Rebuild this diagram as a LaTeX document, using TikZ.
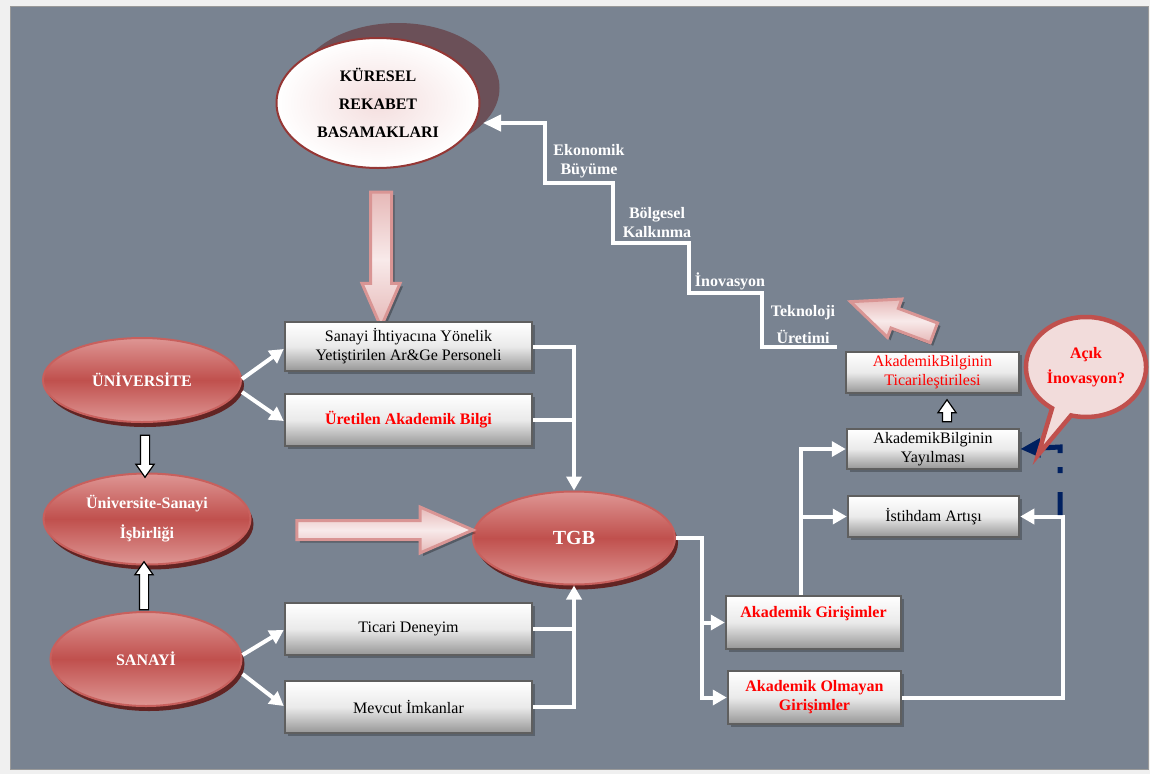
\documentclass[tikz,border=0pt]{standalone}
\usepackage{fontspec}
\setmainfont{Liberation Serif}
\usetikzlibrary{shapes.geometric,shapes.arrows,shapes.callouts,shadows,arrows.meta,calc}
\definecolor{outergray}{RGB}{240,240,240}
\definecolor{slate}{RGB}{121,131,145}
\definecolor{redmid}{RGB}{192,80,77}
\definecolor{redlight}{RGB}{222,150,148}
\definecolor{redrim}{RGB}{200,96,93}
\definecolor{redshadow}{RGB}{98,36,35}
\definecolor{kurpink}{RGB}{244,222,222}
\definecolor{kurrim}{RGB}{149,55,53}
\definecolor{kurshadow}{RGB}{107,80,88}
\definecolor{boxgray}{RGB}{150,150,150}
\definecolor{boxrim}{RGB}{95,95,95}
\definecolor{pinkrim}{RGB}{217,149,148}
\definecolor{pinkedge}{RGB}{230,184,183}
\definecolor{pinkmid}{RGB}{248,234,234}
\definecolor{calloutpink}{RGB}{242,220,219}
\definecolor{navy}{RGB}{0,32,96}
\tikzset{
  redell/.style={
    ellipse,
    draw=redrim,
    line width=2pt,
    top color=redlight,
    bottom color=redlight,
    middle color=redmid,
    text=white,
    font=\bfseries\fontsize{16}{19}\selectfont,
    align=center,
    inner sep=0pt,
    drop shadow={shadow xshift=3pt,shadow yshift=-5pt,fill=redshadow,opacity=1}
  },
  kurell/.style={
    ellipse,
    draw=kurrim,
    line width=2pt,
    inner color=kurpink,
    outer color=white,
    font=\bfseries\fontsize{16}{28}\selectfont,
    align=center,
    inner sep=0pt,
    minimum width=203pt,
    minimum height=130pt,
    drop shadow={shadow xshift=20pt,shadow yshift=15pt,fill=kurshadow,opacity=1}
  },
  graybox/.style={
    rectangle,
    draw=boxrim,
    line width=2.5pt,
    top color=white,
    bottom color=boxgray,
    middle color=white!80!boxgray,
    font=\fontsize{16}{19}\selectfont,
    align=center,
    inner sep=2pt,
    drop shadow={shadow xshift=3pt,shadow yshift=-3pt,fill=black,opacity=.25}
  },
  redtext/.style={text=red, font=\bfseries\fontsize{16}{19}\selectfont},
  redplain/.style={text=red},
  wline/.style={draw=white, line width=4pt},
  warrow/.style={wline, -{Triangle[length=14pt,width=15pt]}},
  blockarrow/.style={
    single arrow,
    draw=pinkrim,
    line width=3pt,
    top color=pinkedge,
    bottom color=pinkedge,
    middle color=pinkmid,
    inner xsep=0pt,
    single arrow tip angle=47,
    drop shadow={shadow xshift=3pt,shadow yshift=-3pt,fill=black,opacity=.3}
  },
  hollowarrow/.style={
    single arrow,
    draw=black,
    line width=1.2pt,
    fill=white,
    inner xsep=0pt,
    inner ysep=4pt,
    single arrow head extend=4.5pt,
    single arrow tip angle=70
  },
  stairlabel/.style={text=white, font=\bfseries\fontsize{16}{19}\selectfont, align=center},
  bubble/.style={
    ellipse callout,
    draw=redmid,
    line width=4.5pt,
    fill=calloutpink,
    text=red,
    font=\bfseries\fontsize{16}{25}\selectfont,
    align=center,
    minimum width=118pt,
    minimum height=100pt,
    callout pointer arc=20
  }
}

\begin{document}
\begin{tikzpicture}[x=1pt,y=-1pt]
  \useasboundingbox (0,0) rectangle (1150,774);
  \fill[outergray] (0,0) rectangle (1150,774);
  \filldraw[fill=slate, draw=black!40, line width=.6pt] (10,6) rectangle (1148,769);

  % top of the stairs
  \node[kurell] (kur) at (378,103) {KÜRESEL\\REKABET\\BASAMAKLARI};
  \node[blockarrow, rotate=-90, minimum height=135pt, inner ysep=9pt, single arrow head extend=8.5pt] at (381,247.5) {};

  % left side
  \node[redell, minimum width=198pt, minimum height=84pt] (uni) at (142,380) {ÜNİVERSİTE};
  \node[redell, minimum width=207pt, minimum height=91pt, font=\bfseries\fontsize{16}{30}\selectfont] (usi) at (147,519) {Üniversite-Sanayi\\İşbirliği};
  \node[redell, minimum width=191pt, minimum height=94pt] (san) at (146,659) {SANAYİ};
  \node[hollowarrow, rotate=-90, minimum height=42pt] at (145,453) {};
  \node[hollowarrow, rotate=90, minimum height=48pt] at (144,589) {};

  \node[graybox, minimum width=247pt, minimum height=49pt] (ihtiyac) at (408.5,346.5) {Sanayi İhtiyacına Yönelik\\Yetiştirilen Ar\&Ge Personeli};
  \node[graybox, redtext, minimum width=247pt, minimum height=52pt] (bilgi) at (408.5,420) {Üretilen Akademik Bilgi};
  \node[graybox, minimum width=247pt, minimum height=52pt] (ticari) at (408.5,629) {Ticari Deneyim};
  \node[graybox, minimum width=247pt, minimum height=52pt] (mevcut) at (408.5,707) {Mevcut İmkanlar};

  \draw[warrow] ([yshift=1pt]uni.east) -- (ihtiyac.west |- 0,349);
  \draw[warrow] ([yshift=-12pt]uni.east) -- (bilgi.west |- 0,421);
  \draw[warrow] ([yshift=4pt]san.east) -- (ticari.west |- 0,630);
  \draw[warrow] ([yshift=-15pt]san.east) -- (mevcut.west |- 0,706);

  % center
  \node[redell, minimum width=202pt, minimum height=93pt, font=\bfseries\fontsize{20}{24}\selectfont] (tgb) at (574,538) {TGB};
  \node[blockarrow, minimum height=176pt, inner ysep=8pt, single arrow head extend=13.5pt] at (374,530) {};

  \draw[warrow] (ihtiyac.east) -| (tgb.north);
  \draw[wline] (bilgi.east) -- (bilgi.east -| tgb.north);
  \draw[warrow] (mevcut.east) -| (tgb.south);
  \draw[wline] (ticari.east) -- (ticari.east -| tgb.south);

  % right side
  \node[graybox, redtext, minimum width=175pt, minimum height=53pt] (akg) at (813.5,622.5) {Akademik Girişimler\\[-4pt] \strut};
  \node[graybox, redtext, minimum width=173pt, minimum height=53pt] (akog) at (814.5,697.5) {Akademik Olmayan\\Girişimler};
  \draw[warrow] (tgb.east) -- ++(26,0) |- (akg.west);
  \draw[warrow] (tgb.east) -- ++(26,0) |- (akog.west);

  \node[graybox, minimum width=171pt, minimum height=41pt] (ist) at (933.5,516.5) {İstihdam Artışı};
  \node[graybox, minimum width=172pt, minimum height=40pt] (yay) at (933,449) {AkademikBilginin\\Yayılması};
  \node[graybox, redplain, minimum width=173pt, minimum height=41pt] (tic) at (932.5,372.5) {AkademikBilginin\\Ticarileştirilesi};
  \node[hollowarrow, rotate=90, minimum height=22pt] at (947,414) {};

  \draw[warrow] ([xshift=-13pt]akg.north) |- (yay.west);
  \draw[warrow] ([xshift=-13pt]akg.north) |- (ist.west);
  \draw[warrow] (akog.east) -- ++(161,0) |- (ist.east);

  \draw[navy, line width=5pt, dash pattern=on 23pt off 19pt on 6pt off 14pt on 80pt, -{Triangle[length=20pt,width=18pt]}] (1060,515) -- (1060,447) -- (yay.east);

  \node[bubble, callout absolute pointer={(1038,455)}] (acik) at (1086,367) {Açık\\İnovasyon?};
  \node[blockarrow, rotate=159.5, minimum height=89pt, inner ysep=9pt, single arrow head extend=10pt] at (903.5,321.5) {};

  % stairs
  \coordinate (stairs) at (837,347);
  \coordinate (kurin) at (483,123);
  \draw[wline, -{Triangle[length=18pt,width=16pt]}] (stairs) -| (762,293) -| (689,243) -| (613,183) -| (545,123) -- (kurin);
  \node[stairlabel] (ekon) at (589,161.5) {Ekonomik\\Büyüme};
  \node[stairlabel] (bolg) at (657,222.5) {Bölgesel\\Kalkınma};
  \node[stairlabel] (inov) at (730,281) {İnovasyon};
  \node[stairlabel, font=\bfseries\fontsize{16}{27}\selectfont] (tekn) at (803,324.5) {Teknoloji\\Üretimi};
\end{tikzpicture}
\end{document}
